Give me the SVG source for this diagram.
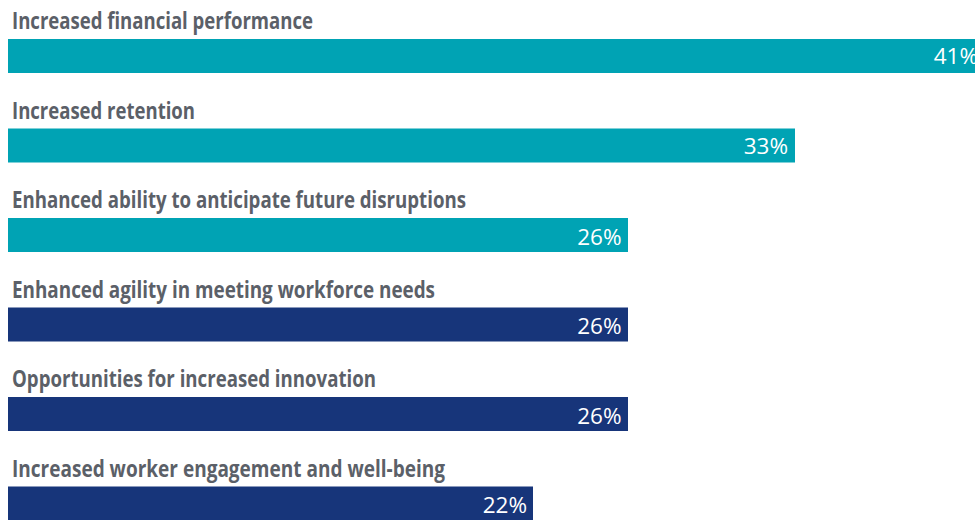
<svg xmlns="http://www.w3.org/2000/svg" width="975" height="520" viewBox="0 0 975 520">
<style>
.lbl{font-family:"Open Sans","Liberation Sans",sans-serif;font-weight:700;font-size:24px;fill:#5b6068}
.val{font-family:"Open Sans","Liberation Sans",sans-serif;font-weight:400;font-size:22.5px;fill:#ffffff;text-anchor:end}
.teal{fill:#00a3b4}
.navy{fill:#17357a}
</style>
<rect width="975" height="520" fill="#ffffff"/>
<g id="bar1">
<text class="lbl" x="12" y="29" textLength="301" lengthAdjust="spacingAndGlyphs">Increased financial performance</text>
<rect class="teal" x="8" y="39" width="970" height="34"/>
<text class="val" x="978" y="64">41%</text>
</g>
<g id="bar2">
<text class="lbl" x="12" y="118.5" textLength="183" lengthAdjust="spacingAndGlyphs">Increased retention</text>
<rect class="teal" x="8" y="128.5" width="787" height="34"/>
<text class="val" x="788" y="153.5">33%</text>
</g>
<g id="bar3">
<text class="lbl" x="12" y="208" textLength="454" lengthAdjust="spacingAndGlyphs">Enhanced ability to anticipate future disruptions</text>
<rect class="teal" x="8" y="218" width="620" height="34"/>
<text class="val" x="621.5" y="244.5">26%</text>
</g>
<g id="bar4">
<text class="lbl" x="12" y="297.5" textLength="423" lengthAdjust="spacingAndGlyphs">Enhanced agility in meeting workforce needs</text>
<rect class="navy" x="8" y="307.5" width="620" height="34"/>
<text class="val" x="621.5" y="334">26%</text>
</g>
<g id="bar5">
<text class="lbl" x="12" y="387" textLength="364" lengthAdjust="spacingAndGlyphs">Opportunities for increased innovation</text>
<rect class="navy" x="8" y="397" width="620" height="34"/>
<text class="val" x="621.5" y="423.5">26%</text>
</g>
<g id="bar6">
<text class="lbl" x="12" y="476.5" textLength="433" lengthAdjust="spacingAndGlyphs">Increased worker engagement and well-being</text>
<rect class="navy" x="8" y="486.5" width="525" height="34"/>
<text class="val" x="527" y="513">22%</text>
</g>
<g id="connectors"/>
</svg>
